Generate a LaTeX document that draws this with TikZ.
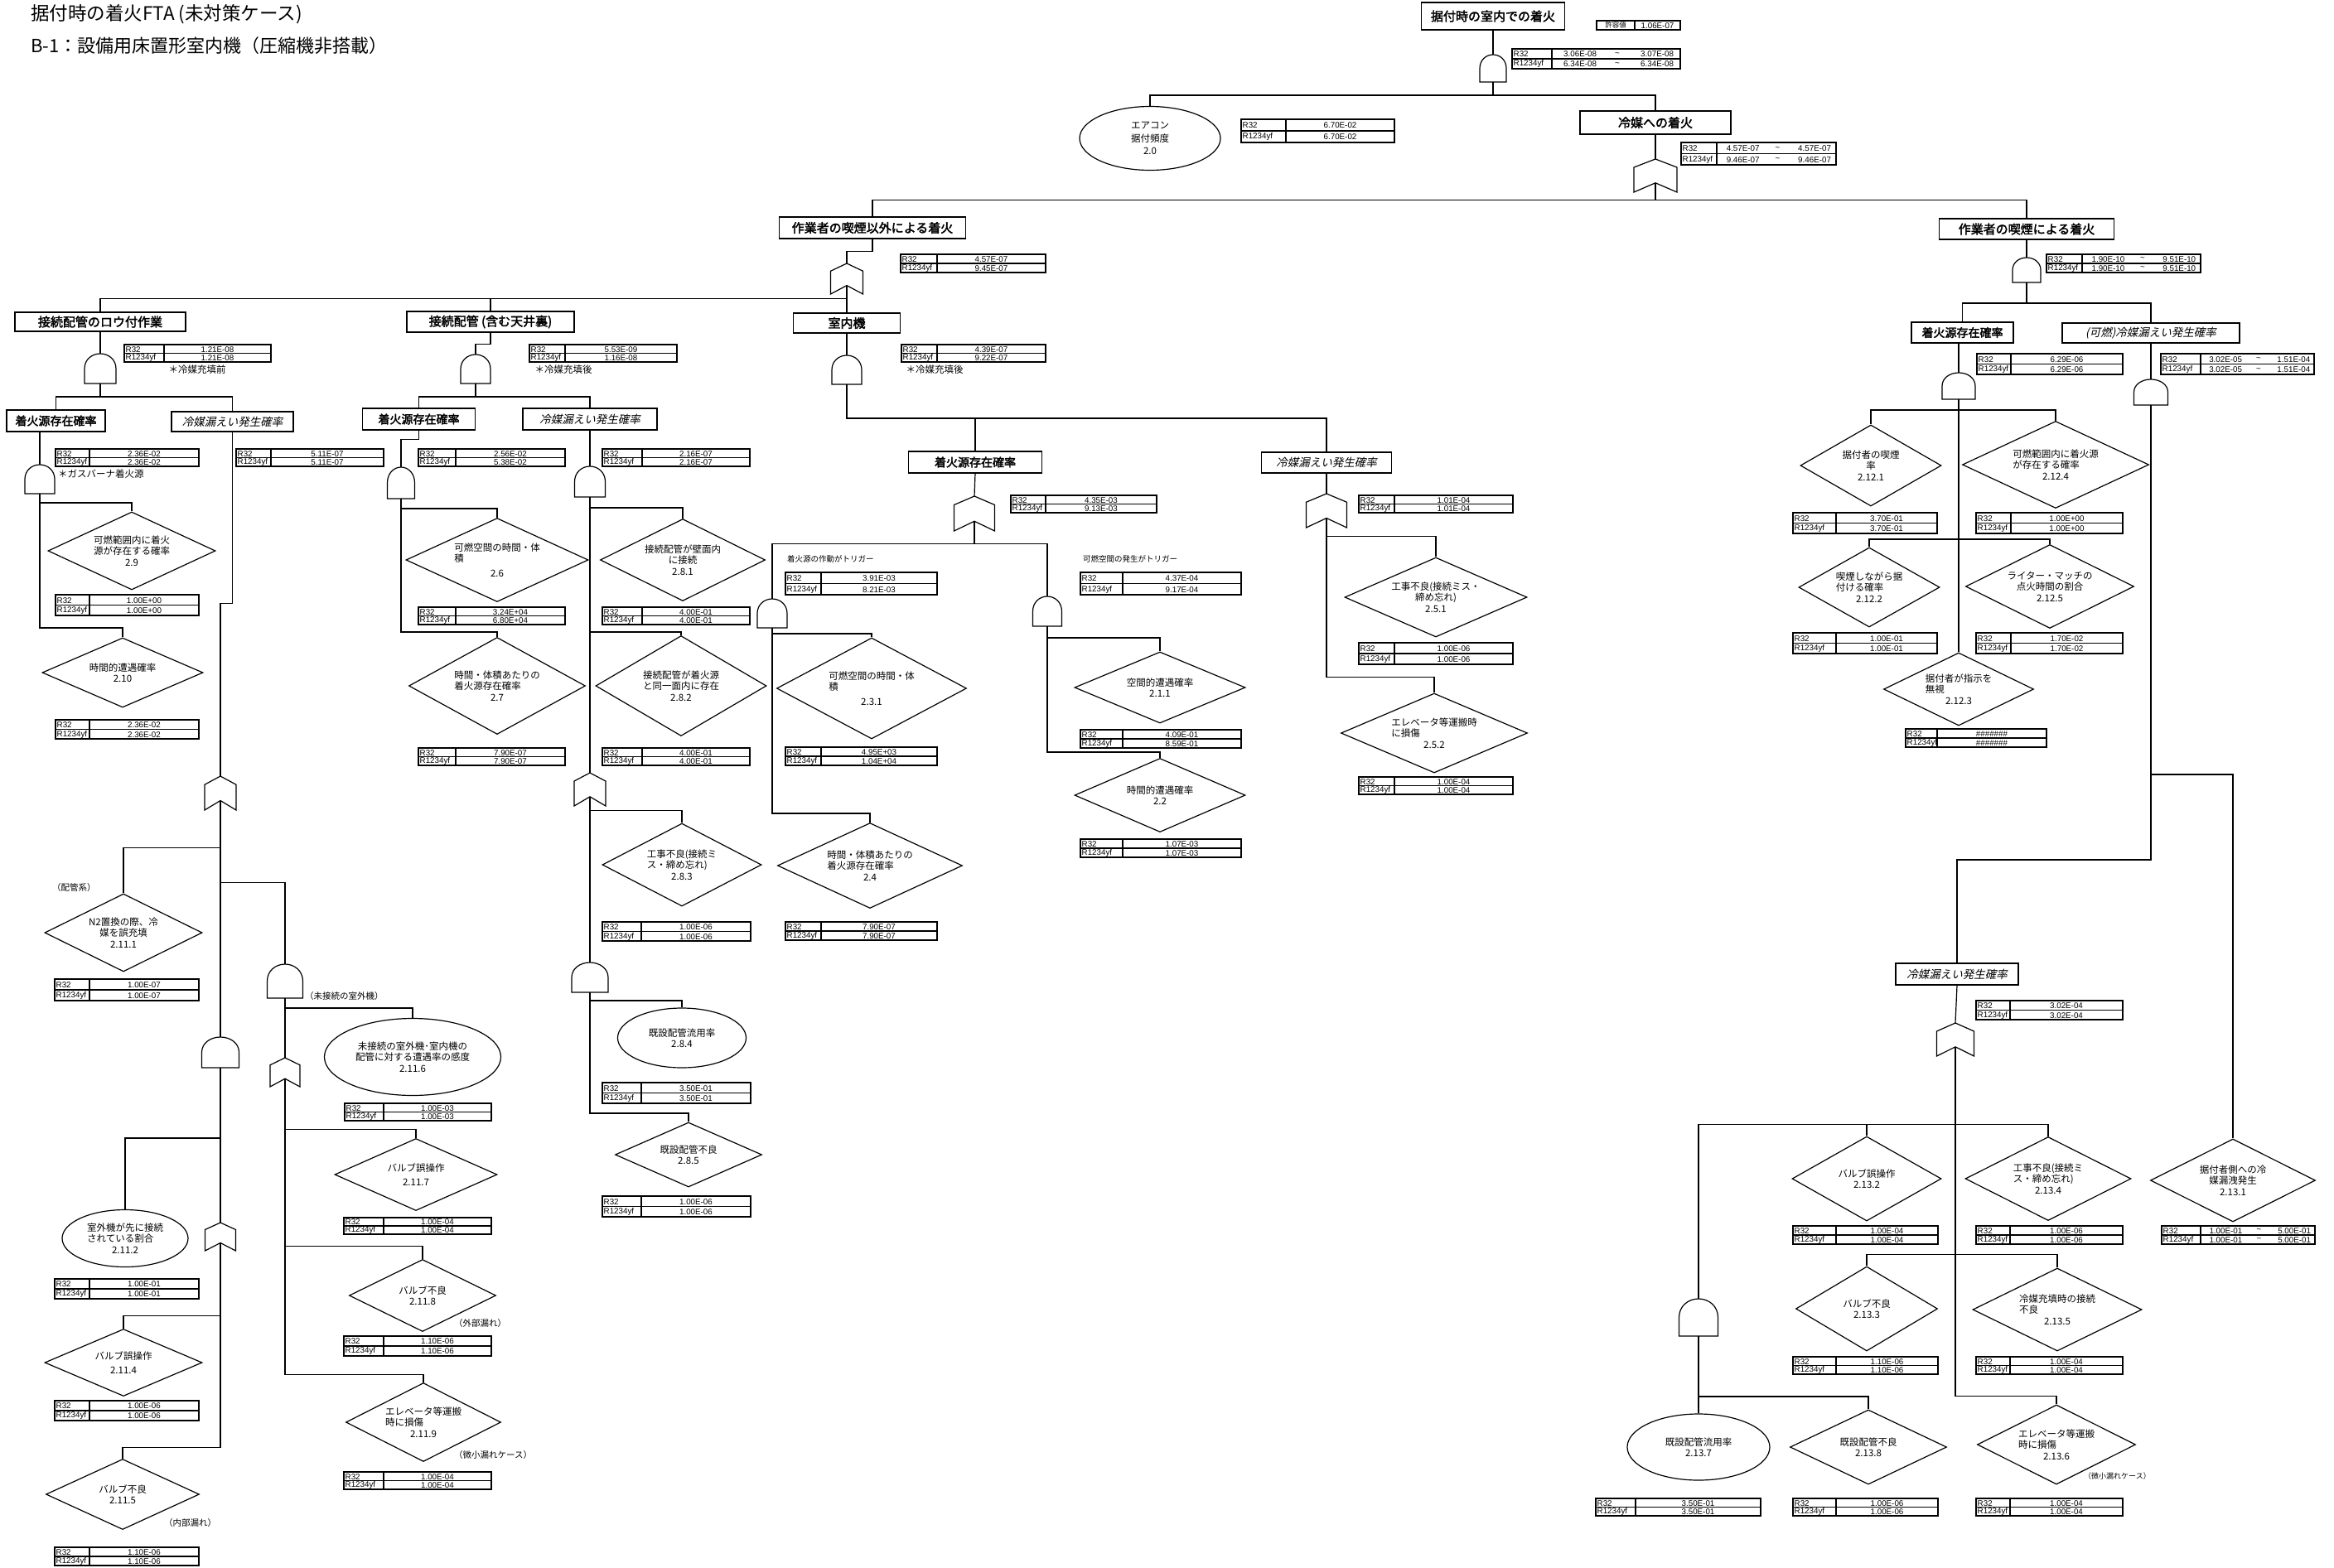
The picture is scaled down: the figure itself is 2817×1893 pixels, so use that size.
\documentclass[tikz,border=0pt]{standalone}
\usepackage{fontspec}
\setmainfont{Noto Sans CJK JP}
\newfontfamily\jpb[FakeBold=2.5]{Noto Sans CJK JP}
\newfontfamily\jpi[FakeSlant=0.22]{Noto Sans CJK JP}
\newfontfamily\numf{Liberation Sans}
\usetikzlibrary{shapes.geometric}

\tikzset{
  con/.style={line width=1.2pt},
  gate/.style={line width=1.2pt},
  tab/.style={line width=1.1pt},
  evb/.style={draw, line width=1.6pt, inner sep=0pt, font=\jpb\fontsize{15}{15}\selectfont},
  evs/.style={evb, font=\jpb\fontsize{14}{14}\selectfont},
  evi/.style={draw, line width=1.1pt, inner sep=0pt, font=\jpi\fontsize{13.5}{14}\selectfont},
  dia/.style={draw, diamond, inner sep=0pt, line width=1.2pt},
  ell/.style={draw, ellipse, inner sep=0pt, line width=1.2pt},
  dtx/.style={align=center, inner sep=0pt, font=\fontsize{11.5}{13.5}\selectfont},
  etx/.style={align=center, inner sep=0pt, font=\fontsize{11.5}{15.5}\selectfont},
  tl/.style={anchor=west, inner sep=0pt, font=\numf\fontsize{9.8}{9.8}\selectfont},
  tv/.style={inner sep=0pt, font=\numf\fontsize{9.8}{9.8}\selectfont},
  note/.style={inner sep=0pt, font=\fontsize{11.5}{11.5}\selectfont},
  snote/.style={inner sep=0pt, anchor=west, font=\fontsize{10.5}{10.5}\selectfont},
}

% diamond event: [text style] name, centre, width, height, text
\newcommand\mkdia[6][dtx]{%
  \node[dia, minimum width=#4pt, minimum height=#5pt] (#2) at (#3) {};
  \node[#1] (#2-t) at (#2.center) {#6};}
% elliptic event
\newcommand\mkell[6][etx]{%
  \node[ell, minimum width=#4pt, minimum height=#5pt] (#2) at (#3) {};
  \node[#1] (#2-t) at (#2.center) {#6};}
% line of text pushed to the left inside a centred block
\newcommand\lft[2]{#1\hspace*{#2em}\null}
% AND gate: name, cx, top, bottom, width
\newcommand\andgate[5]{%
  \pgfmathsetmacro\gXl{#2-#5/2}%
  \pgfmathsetmacro\gXr{#2+#5/2}%
  \pgfmathsetmacro\gYm{#3+0.5*(#4-#3)}%
  \pgfmathsetmacro\gYq{#3+0.2*(#4-#3)}%
  \pgfmathsetmacro\gXil{#2-0.27*#5}%
  \pgfmathsetmacro\gXir{#2+0.27*#5}%
  \draw[gate] (\gXl,#4) -- (\gXl,\gYm) .. controls (\gXl,\gYq) and (\gXil,#3) .. (#2,#3)
     .. controls (\gXir,#3) and (\gXr,\gYq) .. (\gXr,\gYm) -- (\gXr,#4) -- cycle;
  \coordinate (#1-t) at (#2,#3);
  \coordinate (#1-b) at (#2,#4);}
% OR gate: name, cx, top, bottom, width
\newcommand\orgate[5]{%
  \pgfmathsetmacro\gXl{#2-#5/2}%
  \pgfmathsetmacro\gXr{#2+#5/2}%
  \pgfmathsetmacro\gYs{#3+0.25*(#4-#3)}%
  \pgfmathsetmacro\gYn{#4-0.28*(#4-#3)}%
  \draw[gate] (#2,#3) -- (\gXr,\gYs) -- (\gXr,#4) -- (#2,\gYn) -- (\gXl,#4) -- (\gXl,\gYs) -- cycle;
  \coordinate (#1-t) at (#2,#3);
  \coordinate (#1-b) at (#2,\gYn);}
% probability table frame: name, x1, y1, x2, y2, x of the column rule
\newcommand\tabframe[6]{%
  \pgfmathsetmacro\tYm{(#3+#5)/2}%
  \pgfmathsetmacro\tYa{(#3+\tYm)/2+0.4}%
  \pgfmathsetmacro\tYb{(\tYm+#5)/2+0.4}%
  \pgfmathsetmacro\tXl{#2+1.5}%
  \pgfmathsetmacro\tXc{(#6+#4)/2}%
  \pgfmathsetmacro\tXp{#6+0.22*(#4-#6)}%
  \pgfmathsetmacro\tXq{#6+0.51*(#4-#6)}%
  \pgfmathsetmacro\tXr{#6+0.82*(#4-#6)}%
  \draw[tab] (#2,#3) rectangle (#4,#5) (#2,\tYm) -- (#4,\tYm) (#6,#3) -- (#6,#5);
  \node[tl] (#1-l1) at (\tXl,\tYa) {R32};
  \node[tl] (#1-l2) at (\tXl,\tYb) {R1234yf};
  \coordinate (#1-c1) at (\tXc,\tYa);
  \coordinate (#1-c2) at (\tXc,\tYb);
  \coordinate (#1-p1) at (\tXp,\tYa);
  \coordinate (#1-q1) at (\tXq,\tYa);
  \coordinate (#1-r1) at (\tXr,\tYa);
  \coordinate (#1-p2) at (\tXp,\tYb);
  \coordinate (#1-q2) at (\tXq,\tYb);
  \coordinate (#1-r2) at (\tXr,\tYb);}
% single-value table
\newcommand\tabone[8]{%
  \tabframe{#1}{#2}{#3}{#4}{#5}{#6}%
  \node[tv] (#1-v1) at (#1-c1) {#7};
  \node[tv] (#1-v2) at (#1-c2) {#8};}
% range table values
\newcommand\tabrange[5]{%
  \node[tv] (#1-a1) at (#1-p1) {#2};
  \node[tv] (#1-m1) at (#1-q1) {\textasciitilde};
  \node[tv] (#1-b1) at (#1-r1) {#3};
  \node[tv] (#1-a2) at (#1-p2) {#4};
  \node[tv] (#1-m2) at (#1-q2) {\textasciitilde};
  \node[tv] (#1-b2) at (#1-r2) {#5};}

\begin{document}
\begin{tikzpicture}[x=1pt,y=-1pt]
\useasboundingbox (0,0) rectangle (2817,1893);

% ---------- titles ----------
\node[anchor=west, inner sep=0pt, font=\fontsize{22.5}{23}\selectfont] (title) at (37,17) {据付時の着火FTA (未対策ケース)};
\node[anchor=west, inner sep=0pt, font=\fontsize{22}{23}\selectfont] (subtitle) at (37,55) {B-1：設備用床置形室内機（圧縮機非搭載）};

% ---------- intermediate events ----------
\node[evb, minimum width=173pt, minimum height=33pt] (B0) at (1802,19.5) {据付時の室内での着火};
\node[evb, minimum width=182pt, minimum height=28pt] (B1) at (1998,148) {冷媒への着火};
\node[evb, minimum width=225pt, minimum height=26pt] (B2) at (1053,275) {作業者の喫煙以外による着火};
\node[evb, minimum width=211pt, minimum height=25pt] (B3) at (2446,276.5) {作業者の喫煙による着火};
\node[evb, minimum width=206pt, minimum height=23pt] (B4) at (121,388.5) {接続配管のロウ付作業};
\node[evb, minimum width=202pt, minimum height=25pt] (B5) at (592,388.5) {接続配管 (含む天井裏)};
\node[evb, minimum width=129pt, minimum height=24pt] (B6) at (1022,390) {室内機};
\node[evs, minimum width=119pt, minimum height=26pt] (B7) at (67.5,508) {着火源存在確率};
\node[evi, minimum width=147pt, minimum height=24pt] (B8) at (280.5,509) {冷媒漏えい発生確率};
\node[evs, minimum width=136pt, minimum height=26pt] (B9) at (505.5,506) {着火源存在確率};
\node[evi, minimum width=162pt, minimum height=26pt] (B10) at (712,506) {冷媒漏えい発生確率};
\node[evs, minimum width=161pt, minimum height=26pt] (B11) at (1177,558) {着火源存在確率};
\node[evi, minimum width=157pt, minimum height=25pt] (B12) at (1601,558.5) {冷媒漏えい発生確率};
\node[evs, minimum width=123pt, minimum height=25pt] (B13) at (2368.5,401.5) {着火源存在確率};
\node[evi, minimum width=214pt, minimum height=24pt] (B14) at (2596,402) {(可燃)冷媒漏えい発生確率};
\node[evi, minimum width=148pt, minimum height=26pt] (B15) at (2362,1176) {冷媒漏えい発生確率};

% ---------- gates ----------
\andgate{G0}{1802}{66}{99}{32}
\orgate{O1}{1998}{192}{232}{52}
\orgate{O2}{1022}{318}{355}{39}
\andgate{G1}{121}{427}{463}{38}
\andgate{G2}{574}{428}{463}{36}
\andgate{G3}{1022}{429}{464}{36}
\andgate{G4}{48}{561}{596}{36}
\andgate{G5}{484}{564}{602}{33}
\andgate{G6}{712}{563}{600}{37}
\orgate{O3}{266}{937}{978}{38}
\orgate{O4}{712}{933}{973}{38}
\andgate{G14}{712}{1162}{1198}{44}
\orgate{O5}{1176}{599}{641}{49}
\andgate{G7}{932}{723}{758}{36}
\andgate{G8}{1264}{720}{756}{35}
\orgate{O6}{1601}{596}{637}{49}
\andgate{G9}{2446}{311}{341}{34}
\andgate{G10}{2364}{450}{482}{40}
\andgate{G11}{2596}{458}{489}{41}
\andgate{G12}{344}{1164}{1205}{43}
\orgate{O7}{344}{1277}{1312}{36}
\andgate{G13}{266}{1252}{1289}{45}
\orgate{O8}{266}{1476}{1510}{37}
\orgate{O9}{2360}{1235}{1275}{45}
\andgate{G15}{2050}{1568}{1613}{47}

% ---------- basic events ----------
\mkell{E0}{1388,167}{170}{77}{エアコン\\据付頻度\\2.0}
\mkdia{D29}{159,665}{202}{94}{可燃範囲内に着火\\源が存在する確率\\2.9}
\mkdia{D210}{148,812}{194}{84}{時間的遭遇確率\\2.10}
\mkdia{D26}{600,676}{220}{101}{可燃空間の時間・体\\\lft{積}{8}\\[4pt]2.6}
\mkdia{D27}{600,828}{213}{117}{時間・体積あたりの\\\lft{着火源存在確率}{2}\\2.7}
\mkdia{D281}{824,676}{199}{99}{接続配管が壁面内\\に接続\\2.8.1}
\mkdia{D282}{822,828}{206}{121}{接続配管が着火源\\と同一面内に存在\\2.8.2}
\mkdia{D283}{823,1044}{192}{100}{工事不良(接続ミ\\\lft{ス・締め忘れ)}{1}\\2.8.3}
\mkell[dtx]{E284}{823,1253}{155}{72}{既設配管流用率\\2.8.4}
\mkdia{D285}{831,1394}{177}{78}{既設配管不良\\2.8.5}
\mkdia{D231}{1052,831}{229}{122}{可燃空間の時間・体\\\lft{積}{8}\\[4pt]2.3.1}
\mkdia{D24}{1050,1045}{223}{103}{時間・体積あたりの\\\lft{着火源存在確率}{2}\\2.4}
\mkdia{D211}{1400,830}{206}{86}{空間的遭遇確率\\2.1.1}
\mkdia{D22}{1400,960}{206}{89}{時間的遭遇確率\\2.2}
\mkdia{D251}{1733,721}{220}{96}{工事不良(接続ミス・\\締め忘れ)\\2.5.1}
\mkdia{D252}{1731,885}{225}{96}{エレベータ等運搬時\\\lft{に損傷}{6}\\2.5.2}
\mkdia{D2121}{2258,562}{170}{98}{据付者の喫煙\\率\\2.12.1}
\mkdia{D2124}{2481,561}{225}{105}{可燃範囲内に着火源\\\lft{が存在する確率}{2}\\2.12.4}
\mkdia{D2122}{2256,709}{170}{96}{喫煙しながら据\\\lft{付ける確率}{2}\\2.12.2}
\mkdia{D2125}{2474,708}{203}{101}{ライター・マッチの\\点火時間の割合\\2.12.5}
\mkdia{D2123}{2364,832}{181}{88}{据付者が指示を\\\lft{無視}{5}\\2.12.3}
\mkdia{D2111}{149,1126}{190}{94}{N2置換の際、冷\\媒を誤充填\\2.11.1}
\mkell[dtx]{E2116}{498,1276}{213}{93}{未接続の室外機･室内機の\\配管に対する遭遇率の感度\\2.11.6}
\mkdia{D2117}{502,1418}{196}{87}{バルブ誤操作\\[3pt]2.11.7}
\mkdia{D2118}{510,1564}{177}{87}{バルブ不良\\2.11.8}
\mkdia{D2119}{511,1717}{187}{95}{エレベータ等運搬\\\lft{時に損傷}{4}\\2.11.9}
\mkell[dtx]{E2112}{151,1495}{152}{69}{室外機が先に接続\\\lft{されている割合}{1}\\2.11.2}
\mkdia{D2114}{149,1645}{190}{81}{バルブ誤操作\\[3pt]2.11.4}
\mkdia{D2115}{148,1804}{185}{85}{バルブ不良\\2.11.5}
\mkdia{D2132}{2253,1423}{180}{102}{バルブ誤操作\\2.13.2}
\mkdia{D2134}{2472,1423}{200}{101}{工事不良(接続ミ\\\lft{ス・締め忘れ)}{1}\\2.13.4}
\mkdia{D2131}{2695,1425}{199}{100}{据付者側への冷\\媒漏洩発生\\2.13.1}
\mkdia{D2133}{2253,1580}{171}{102}{バルブ不良\\2.13.3}
\mkdia{D2135}{2483,1581}{204}{100}{冷媒充填時の接続\\\lft{不良}{6}\\2.13.5}
\mkell[dtx]{E2137}{2050,1747}{172}{80}{既設配管流用率\\2.13.7}
\mkdia{D2138}{2255,1747}{189}{90}{既設配管不良\\2.13.8}
\mkdia{D2136}{2482,1744}{191}{96}{エレベータ等運搬\\\lft{時に損傷}{4}\\2.13.6}

% ---------- connectors ----------
\draw[con] (B0.south) -- (G0-t);
\draw[con] (G0-b) -- ++(0,16) -| (E0.north);
\draw[con] (G0-b) -- ++(0,16) -| (B1.north);
\draw[con] (B1.south) -- (O1-t);
\draw[con] (O1-b) -- ++(0,21) -| (B2.north);
\draw[con] (O1-b) -- ++(0,21) -| (B3.north);
\draw[con] (B2.south) -- ++(0,15) -| (O2-t);
\draw[con] (O2-b) -- ++(0,16) -| (B4.north);
\draw[con] (O2-b) -- ++(0,16) -| (B5.north);
\draw[con] (O2-b) -- (B6.north);
\draw[con] (B4.south) -- (G1-t);
\draw[con] (G1-b) -- ++(0,16) -| (B7.north);
\draw[con] (G1-b) -- ++(0,16) -| (B8.north);
\draw[con] (B5.south) -- ++(0,14) -| (G2-t);
\draw[con] (G2-b) -- ++(0,16) -| (B9.north);
\draw[con] (G2-b) -- ++(0,16) -| (B10.north);
\draw[con] (B6.south) -- (G3-t);
\draw[con] (G3-b) -- ++(0,41) -| (B11.north);
\draw[con] (G3-b) -- ++(0,41) -| (B12.north);
% soldering branch
\draw[con] (G4-t |- B7.south) -- (G4-t);
\draw[con] (G4-b) -- ++(0,11) -| (D29.north);
\draw[con] (G4-b) -- ++(0,162) -| (D210.north);
\draw[con] (B8.south) -- ++(0,207) -| (O3-t);
\draw[con] (O3-b) -- ++(0,57) -| (D2111.north);
\draw[con] (O3-b) -- ++(0,99) -| (G12-t);
\draw[con] (O3-b) -- (G13-t);
\draw[con] (G12-b) -- (O7-t);
\draw[con] (G12-b) -- ++(0,12) -| (E2116.north);
\draw[con] (O7-b) -- ++(0,61) -| (D2117.north);
\draw[con] (O7-b) -- ++(0,202) -| (D2118.north);
\draw[con] (O7-b) -- ++(0,357) -| (D2119.north);
\draw[con] (G13-b) -- (O8-t);
\draw[con] (G13-b) -- ++(0,85) -| (E2112.north);
\draw[con] (O8-b) -- ++(0,88) -| (D2114.north);
\draw[con] (O8-b) -- ++(0,247) -| (D2115.north);
% piping branch
\draw[con] (B9.south) -- ++(0,11) -| (G5-t);
\draw[con] (G5-b) -- ++(0,12) -| (D26.north);
\draw[con] (G5-b) -- ++(0,161) -| (D27.north);
\draw[con] (B10.south) -- (G6-t);
\draw[con] (G6-b) -- ++(0,13) -| (D281.north);
\draw[con] (G6-b) -- ++(0,163) -| (D282.north);
\draw[con] (G6-b) -- (O4-t);
\draw[con] (O4-b) -- ++(0,17) -| (D283.north);
\draw[con] (O4-b) -- (G14-t);
\draw[con] (G14-b) -- ++(0,10) -| (E284.north);
\draw[con] (G14-b) -- ++(0,146) -| (D285.north);
% indoor unit branch
\draw[con] (B11.south) -- (O5-t);
\draw[con] (O5-b) -- ++(0,27) -| (G7-t);
\draw[con] (O5-b) -- ++(0,27) -| (G8-t);
\draw[con] (G7-b) -- ++(0,7) -| (D231.north);
\draw[con] (G7-b) -- ++(0,224) -| (D24.north);
\draw[con] (G8-b) -- ++(0,14) -| (D211.north);
\draw[con] (G8-b) -- ++(0,152) -| (D22.north);
\draw[con] (B12.south) -- (O6-t);
\draw[con] (O6-b) -- ++(0,22) -| (D251.north);
\draw[con] (O6-b) -- ++(0,192) -| (D252.north);
% smoking branch
\draw[con] (B3.south) -- (G9-t);
\draw[con] (G9-b) -- ++(0,25) -| (B13.north);
\draw[con] (G9-b) -- ++(0,25) -| (B14.north);
\draw[con] (G10-t |- B13.south) -- (G10-t);
\draw[con] (G10-b) -- (D2123.north);
\draw[con] (G10-b) -- ++(0,13) -| (D2121.north);
\draw[con] (G10-b) -- ++(0,13) -| (D2124.north);
\draw[con] (G10-b) -- ++(0,169) -| (D2122.north);
\draw[con] (G10-b) -- ++(0,169) -| (D2125.north);
\draw[con] (B14.south) -- (G11-t);
\draw[con] (G11-b) -- ++(0,446) -| (D2131.north);
\draw[con] (G11-b) -- ++(0,549) -| (B15.north);
\draw[con] (B15.south) -- (O9-t);
\draw[con] (O9-b) -- ++(0,94) -| (G15-t);
\draw[con] (O9-b) -- ++(0,94) -| (D2132.north);
\draw[con] (O9-b) -- ++(0,94) -| (D2134.north);
\draw[con] (O9-b) -- ++(0,251) -| (D2133.north);
\draw[con] (O9-b) -- ++(0,251) -| (D2135.north);
\draw[con] (O9-b) -- ++(0,422) -| (D2136.north);
\draw[con] (G15-b) -- (E2137.north);
\draw[con] (G15-b) -- ++(0,73) -| (D2138.north);

% ---------- probability tables ----------
\draw[tab] (1927,25) rectangle (2028,36) (1973,25) -- (1973,36);
\node[tv, font=\fontsize{8.5}{8.5}\selectfont] (tolk) at (1950,30.5) {許容値};
\node[tv] (tolv) at (2000.5,30.8) {1.06E-07};

\tabframe{TT0}{1825}{59}{2028}{83}{1873}
\tabrange{TT0}{3.06E-08}{3.07E-08}{6.34E-08}{6.34E-08}
\tabone{TE0}{1498}{144}{1683}{172}{1552}{6.70E-02}{6.70E-02}
\tabframe{TT1}{2029}{172}{2216}{199}{2072}
\tabrange{TT1}{4.57E-07}{4.57E-07}{9.46E-07}{9.46E-07}
\tabone{TT2}{1087}{307}{1262}{329}{1131}{4.57E-07}{9.45E-07}
\tabframe{TT3}{2470}{307}{2656}{329}{2513}
\tabrange{TT3}{1.90E-10}{9.51E-10}{1.90E-10}{9.51E-10}
\tabone{TT4}{150}{416}{327}{437}{198}{1.21E-08}{1.21E-08}
\tabone{TT5}{639}{416}{817}{437}{682}{5.53E-09}{1.16E-08}
\tabone{TT6}{1088}{416}{1262}{437}{1131}{4.39E-07}{9.22E-07}
\tabone{TT7}{67}{542}{240}{563}{108}{2.36E-02}{2.36E-02}
\tabone{TT8}{285}{542}{463}{563}{327}{5.11E-07}{5.11E-07}
\tabone{TT9}{505}{542}{682}{563}{550}{2.56E-02}{5.38E-02}
\tabone{TT10}{727}{542}{905}{563}{775}{2.16E-07}{2.16E-07}
\tabone{TT11}{1220}{598}{1396}{619}{1262}{4.35E-03}{9.13E-03}
\tabone{TT12}{1640}{598}{1826}{619}{1683}{1.01E-04}{1.01E-04}
\tabone{TT13}{948}{691}{1131}{718}{991}{3.91E-03}{8.21E-03}
\tabone{TT14}{1304}{691}{1498}{718}{1355}{4.37E-04}{9.17E-04}
\tabone{TT15}{2386}{427}{2562}{452}{2427}{6.29E-06}{6.29E-06}
\tabframe{TT16}{2608}{427}{2793}{452}{2656}
\tabrange{TT16}{3.02E-05}{1.51E-04}{3.02E-05}{1.51E-04}
\tabone{TT17}{2385}{1208}{2562}{1231}{2426}{3.02E-04}{3.02E-04}

\tabone{t29}{67}{718}{240}{743}{108}{1.00E+00}{1.00E+00}
\tabone{t210}{67}{869}{240}{892}{108}{2.36E-02}{2.36E-02}
\tabone{t26}{505}{733}{682}{754}{550}{3.24E+04}{6.80E+04}
\tabone{t27}{505}{903}{682}{924}{550}{7.90E-07}{7.90E-07}
\tabone{t281}{727}{733}{905}{754}{775}{4.00E-01}{4.00E-01}
\tabone{t282}{727}{903}{905}{924}{775}{4.00E-01}{4.00E-01}
\tabone{t283}{727}{1113}{906}{1136}{774}{1.00E-06}{1.00E-06}
\tabone{t284}{727}{1307}{906}{1332}{774}{3.50E-01}{3.50E-01}
\tabone{t285}{727}{1444}{906}{1469}{774}{1.00E-06}{1.00E-06}
\tabone{t231}{948}{902}{1131}{924}{991}{4.95E+03}{1.04E+04}
\tabone{t24}{948}{1113}{1131}{1135}{991}{7.90E-07}{7.90E-07}
\tabone{t211}{1304}{881}{1498}{903}{1355}{4.09E-01}{8.59E-01}
\tabone{t22}{1304}{1013}{1498}{1035}{1355}{1.07E-03}{1.07E-03}
\tabone{t251}{1640}{776}{1826}{802}{1683}{1.00E-06}{1.00E-06}
\tabone{t252}{1640}{938}{1826}{959}{1683}{1.00E-04}{1.00E-04}
\tabone{t2121}{2164}{619}{2338}{644}{2216}{3.70E-01}{3.70E-01}
\tabone{t2124}{2385}{619}{2562}{644}{2427}{1.00E+00}{1.00E+00}
\tabone{t2122}{2164}{764}{2338}{789}{2216}{1.00E-01}{1.00E-01}
\tabone{t2125}{2385}{764}{2562}{789}{2427}{1.70E-02}{1.70E-02}
\tabone{t2123}{2300}{880}{2470}{902}{2338}{\#\#\#\#\#\#\#}{\#\#\#\#\#\#\#}
\tabone{t2111}{66}{1182}{240}{1208}{108}{1.00E-07}{1.00E-07}
\tabone{t2116}{416}{1332}{593}{1353}{463}{1.00E-03}{1.00E-03}
\tabone{t2117}{415}{1470}{593}{1490}{463}{1.00E-04}{1.00E-04}
\tabone{t2118}{415}{1613}{593}{1637}{463}{1.10E-06}{1.10E-06}
\tabone{t2119}{415}{1777}{593}{1798}{463}{1.00E-04}{1.00E-04}
\tabone{t2112}{66}{1544}{240}{1568}{108}{1.00E-01}{1.00E-01}
\tabone{t2114}{66}{1691}{240}{1715}{108}{1.00E-06}{1.00E-06}
\tabone{t2115}{66}{1868}{240}{1890}{108}{1.10E-06}{1.10E-06}
\tabone{t2132}{2164}{1480}{2339}{1502}{2216}{1.00E-04}{1.00E-04}
\tabone{t2134}{2385}{1480}{2562}{1502}{2426}{1.00E-06}{1.00E-06}
\tabframe{t2131}{2609}{1480}{2794}{1502}{2656}
\tabrange{t2131}{1.00E-01}{5.00E-01}{1.00E-01}{5.00E-01}
\tabone{t2133}{2164}{1638}{2339}{1659}{2216}{1.10E-06}{1.10E-06}
\tabone{t2135}{2385}{1638}{2562}{1659}{2426}{1.00E-04}{1.00E-04}
\tabone{t2137}{1926}{1809}{2125}{1830}{1974}{3.50E-01}{3.50E-01}
\tabone{t2138}{2164}{1809}{2339}{1830}{2216}{1.00E-06}{1.00E-06}
\tabone{t2136}{2385}{1809}{2562}{1830}{2426}{1.00E-04}{1.00E-04}

% ---------- notes ----------
\node[note] (n1) at (238,446) {＊冷媒充填前};
\node[note] (n2) at (680,446) {＊冷媒充填後};
\node[note] (n3) at (1128,446) {＊冷媒充填後};
\node[note, anchor=west] (n4) at (70,572) {＊ガスバーナ着火源};
\node[snote, font=\fontsize{9.5}{9.5}\selectfont] (n5) at (950,675) {着火源の作動がトリガー};
\node[snote, font=\fontsize{9.5}{9.5}\selectfont] (n6) at (1307,675) {可燃空間の発生がトリガー};
\node[snote] (n7) at (63,1071) {（配管系）};
\node[snote] (n8) at (368,1202) {（未接続の室外機）};
\node[snote] (n9) at (548,1597) {（外部漏れ）};
\node[snote] (n10) at (548,1756) {（微小漏れケース）};
\node[snote] (n11) at (198,1838) {（内部漏れ）};
\node[snote, font=\fontsize{9}{9}\selectfont] (n12) at (2515,1782) {（微小漏れケース）};
\end{tikzpicture}
\end{document}
